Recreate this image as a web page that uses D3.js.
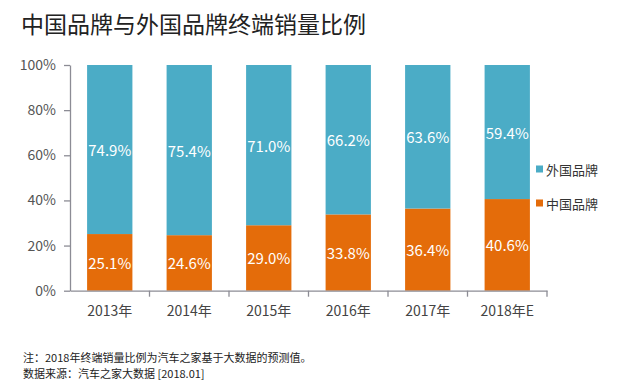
<!DOCTYPE html>
<html>
<head>
<meta charset="utf-8">
<script src="https://cdn.jsdelivr.net/npm/d3@7"></script>
<style>
  html, body { margin: 0; padding: 0; background: #fff; }
  svg { display: block; }
</style>
</head>
<body>
<div id="chart"></div>
<script>
const years = ["2013年", "2014年", "2015年", "2016年", "2017年", "2018年E"];
const chinaShare = [25.1, 24.6, 29.0, 33.8, 36.4, 40.6];
const foreignShare = [74.9, 75.4, 71.0, 66.2, 63.6, 59.4];
const seriesNames = ["外国品牌", "中国品牌"];
const yTicks = [0, 20, 40, 60, 80, 100];

const W = 620, H = 387;
const FONT = "'Noto Sans CJK SC', 'Noto Sans', sans-serif";
const COL = { china: "#e46c0a", foreign: "#4bacc6", axis: "#8c8c95", tick: "#555", text: "#222" };
const M = { left: 70, right: 547, top: 65, bottom: 290.7 };

const svg = d3.select("#chart").append("svg")
  .attr("width", W).attr("height", H)
  .style("font-family", FONT);

// ---- scales -------------------------------------------------------------
const x = d3.scaleBand().domain(years).range([M.left, M.right]).paddingInner(0.43).paddingOuter(0.215);
const y = d3.scaleLinear().domain([0, 100]).range([M.bottom, M.top]);

// ---- title --------------------------------------------------------------
svg.append("text")
  .attr("x", 21).attr("y", 33)
  .attr("fill", COL.text)
  .style("font-size", "23px")
  .text("中国品牌与外国品牌终端销量比例");

// ---- bars ---------------------------------------------------------------
const rows = years.map((yr, i) => ({ yr, china: chinaShare[i], foreign: foreignShare[i] }));
const stack = d3.stack().keys(["china", "foreign"])(rows);
const colorOf = { china: COL.china, foreign: COL.foreign };

stack.forEach((layer) => {
  const g = svg.append("g");
  g.selectAll("rect").data(layer).join("rect")
    .attr("x", (d) => x(d.data.yr))
    .attr("width", x.bandwidth())
    .attr("y", (d) => y(d[1]))
    .attr("height", (d) => y(d[0]) - y(d[1]))
    .attr("fill", colorOf[layer.key]);
  g.selectAll("text").data(layer).join("text")
    .attr("x", (d) => x(d.data.yr) + x.bandwidth() / 2)
    .attr("y", (d) => (y(d[0]) + y(d[1])) / 2)
    .attr("text-anchor", "middle").attr("dominant-baseline", "central")
    .attr("fill", "#fff")
    .style("font-size", "15px")
    .text((d) => d.data[layer.key].toFixed(1) + "%");
});

// ---- axes ---------------------------------------------------------------
const yAxis = svg.append("g")
  .attr("transform", `translate(${M.left},0)`)
  .call(d3.axisLeft(y).tickValues(yTicks).tickFormat((d) => d + "%").tickSize(6).tickSizeOuter(0));
yAxis.select(".domain").attr("stroke", COL.axis).attr("stroke-width", 1.3);
yAxis.selectAll(".tick line").attr("stroke", COL.axis).attr("stroke-width", 1.3);
yAxis.selectAll(".tick text")
  .attr("x", -14).attr("fill", COL.tick)
  .style("font-size", "14px").style("font-family", FONT);

const xAxis = svg.append("g")
  .attr("transform", `translate(0,${M.bottom})`)
  .call(d3.axisBottom(x).tickSize(0).tickSizeOuter(0));
xAxis.select(".domain").attr("stroke", COL.axis).attr("stroke-width", 1.3);
xAxis.selectAll(".tick text")
  .attr("y", 25).attr("dy", 0).attr("fill", "#444")
  .style("font-size", "14px").style("font-family", FONT);

// ticks between categories
const boundaries = d3.range(1, years.length + 1).map((i) => M.left + i * (M.right - M.left) / years.length);
svg.append("g").selectAll("line").data(boundaries).join("line")
  .attr("x1", (d) => d).attr("x2", (d) => d)
  .attr("y1", M.bottom).attr("y2", M.bottom + 6)
  .attr("stroke", COL.axis).attr("stroke-width", 1.3);

// ---- legend -------------------------------------------------------------
const legend = svg.append("g").selectAll("g").data(seriesNames).join("g")
  .attr("transform", (d, i) => `translate(536,${169 + i * 34})`);
legend.append("rect")
  .attr("x", 0).attr("y", -3.5).attr("width", 7).attr("height", 7)
  .attr("fill", (d, i) => (i === 0 ? COL.foreign : COL.china));
legend.append("text")
  .attr("x", 10).attr("y", 0).attr("dominant-baseline", "central")
  .attr("fill", "#333").style("font-size", "13px")
  .text((d) => d);

// ---- notes --------------------------------------------------------------
const notes = ["注：2018年终端销量比例为汽车之家基于大数据的预测值。", "数据来源：汽车之家大数据 [2018.01]"];
svg.append("g").selectAll("text").data(notes).join("text")
  .attr("x", 23).attr("y", (d, i) => 357 + i * 16)
  .attr("dominant-baseline", "central")
  .attr("fill", "#222").style("font-size", "11px")
  .text((d) => d);
</script>
</body>
</html>
